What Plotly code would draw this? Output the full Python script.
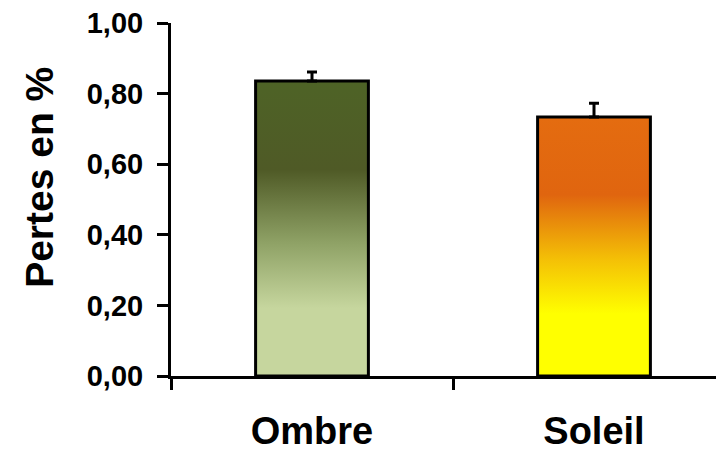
import plotly.graph_objects as go

categories = ["Ombre", "Soleil"]
values = [0.836, 0.734]
errors = [0.025, 0.039]
y_ticks = [0.0, 0.2, 0.4, 0.6, 0.8, 1.0]
y_title = "Pertes en %"

# gradient colour stops (fraction of bar height, colour)
gradients = [
    [[0.0, "#c6d69e"], [0.23, "#c6d69e"], [0.45, "#8fa266"], [0.70, "#4f5a26"], [1.0, "#4e6326"]],
    [[0.0, "#ffff00"], [0.24, "#ffff00"], [0.45, "#f4c006"], [0.70, "#e0650f"], [1.0, "#e46c10"]],
]

BAR_W = 0.40
FONT = "Liberation Sans, Arial, sans-serif"

fig = go.Figure()
for i, (cat, v) in enumerate(zip(categories, values)):
    x0, x1 = i - BAR_W / 2, i + BAR_W / 2
    fig.add_trace(go.Scatter(
        x=[x0, x0, x1, x1, x0], y=[0, v, v, 0, 0],
        mode="lines", fill="toself",
        fillgradient=dict(type="vertical", colorscale=gradients[i], start=0, stop=v),
        line=dict(color="black", width=3),
        hoverinfo="skip", showlegend=False, name=cat,
    ))

fig.add_trace(go.Scatter(
    x=list(range(len(categories))), y=values, mode="markers",
    marker=dict(size=1, color="black"),
    error_y=dict(type="data", array=errors, arrayminus=[0] * len(errors), symmetric=False,
                 color="black", thickness=3, width=5),
    showlegend=False,
))

# invisible trace for category labels on second x axis
fig.add_trace(go.Scatter(x=list(range(len(categories))), y=values, xaxis="x2",
                         mode="markers", marker=dict(opacity=0), showlegend=False, hoverinfo="skip"))

xr = [-0.5, 1.461]
fig.update_layout(
    width=716, height=445,
    margin=dict(l=163, r=0, t=15, b=77, autoexpand=False),
    plot_bgcolor="white", paper_bgcolor="white",
    separators=", ",
    font=dict(family=FONT, color="black"),
    xaxis=dict(range=xr, showline=True, linewidth=3, linecolor="black",
               tickvals=[-0.5, 0.5, 1.5], ticktext=["", "", ""],
               ticks="outside", ticklen=11, tickwidth=3, tickcolor="black",
               showgrid=False, zeroline=False, automargin=False),
    xaxis2=dict(range=xr, overlaying="x", side="bottom", showline=False,
                tickvals=list(range(len(categories))), ticktext=categories,
                ticks="", showgrid=False, zeroline=False, automargin=False,
                tickfont=dict(size=38, family=FONT, weight="bold"),
                ticklabelstandoff=29, ticklabeloverflow="allow"),
    yaxis=dict(range=[0, 1], showline=True, linewidth=3, linecolor="black",
               tickvals=y_ticks, tickformat=".2f",
               ticks="outside", ticklen=11, tickwidth=3, tickcolor="black",
               tickfont=dict(size=29, family=FONT, weight="bold"),
               ticklabelstandoff=8, automargin=False, ticklabeloverflow="allow",
               showgrid=False, zeroline=False),
    annotations=[dict(text=y_title, textangle=-90, xref="paper", yref="paper",
                      x=-0.237, y=0.564, xanchor="center", yanchor="middle",
                      showarrow=False, font=dict(size=39, family=FONT, weight="bold"))],
)

fig.write_html("out.html")
